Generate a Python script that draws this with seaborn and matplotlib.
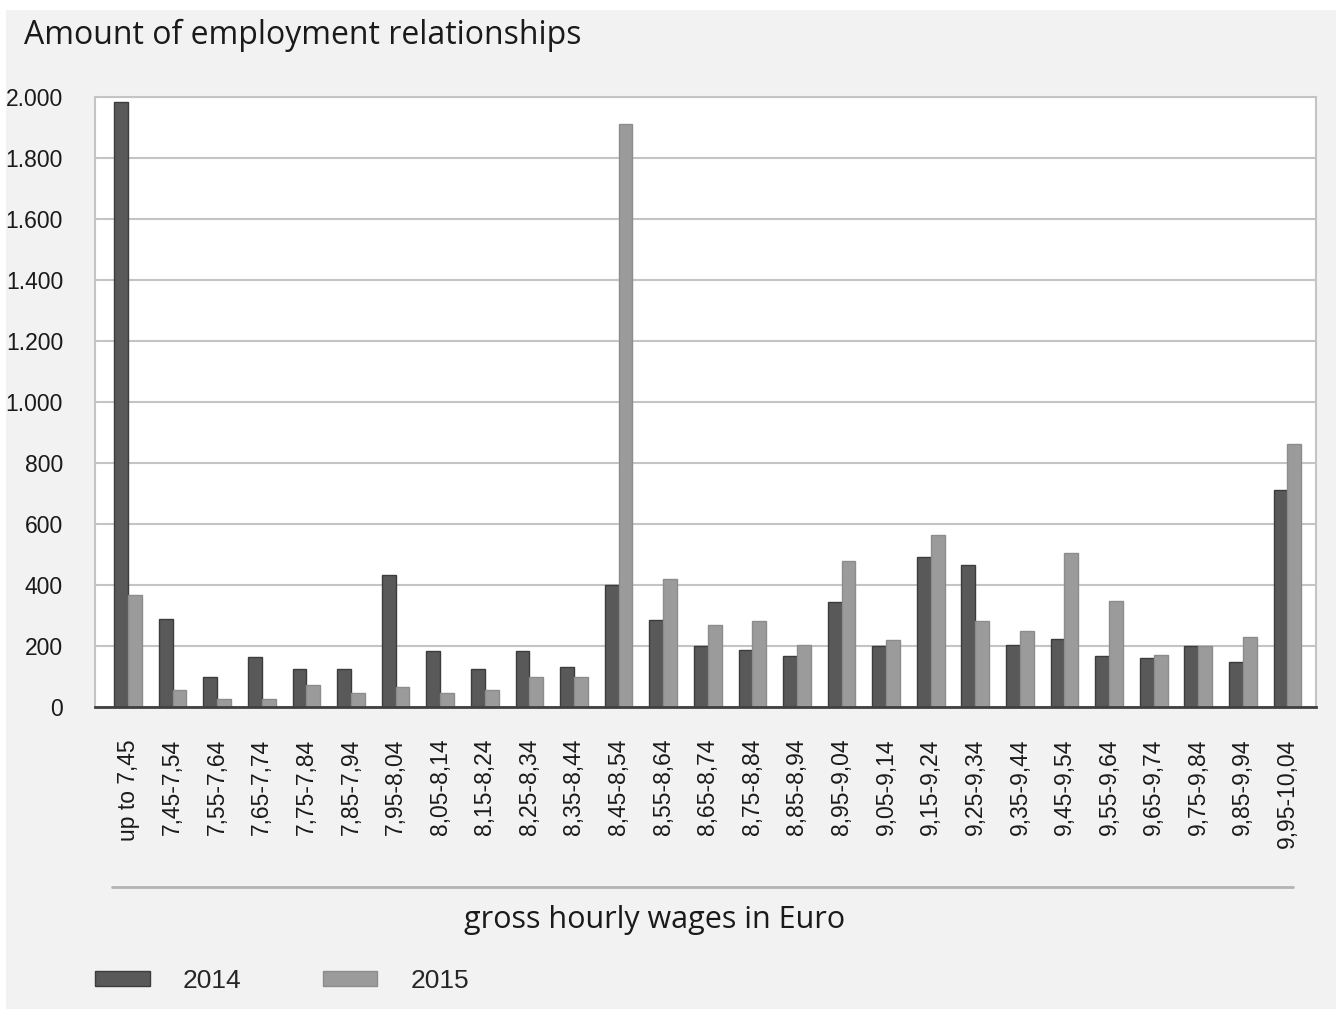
import numpy as np
import pandas as pd
import matplotlib
matplotlib.use('Agg')
import matplotlib.pyplot as plt
from matplotlib.ticker import FuncFormatter
from matplotlib.patches import Patch, Rectangle
from matplotlib.lines import Line2D
import seaborn as sns

# wage bands (x axis)
categories = ['up to 7,45', '7,45-7,54', '7,55-7,64', '7,65-7,74', '7,75-7,84',
              '7,85-7,94', '7,95-8,04', '8,05-8,14', '8,15-8,24', '8,25-8,34',
              '8,35-8,44', '8,45-8,54', '8,55-8,64', '8,65-8,74', '8,75-8,84',
              '8,85-8,94', '8,95-9,04', '9,05-9,14', '9,15-9,24', '9,25-9,34',
              '9,35-9,44', '9,45-9,54', '9,55-9,64', '9,65-9,74', '9,75-9,84',
              '9,85-9,94', '9,95-10,04']

# amounts
v2014 = [1985, 289, 98, 164, 125, 125, 433, 184, 125, 184, 131, 400, 285, 200,
         187, 167, 344, 200, 492, 466, 203, 223, 167, 161, 200, 148, 711]
v2015 = [367, 56, 26, 26, 72, 46, 66, 46, 56, 98, 98, 1912, 420, 269,
         282, 203, 479, 220, 564, 282, 249, 505, 348, 170, 200, 230, 862]

years = ['2014', '2015']
colors = {'2014': '#595959', '2015': '#9b9b9b'}
edges = {'2014': '#3c3c3c', '2015': '#8c8c8c'}

n = len(categories)
df = pd.DataFrame({
    'wage': categories * 2,
    'year': ['2014'] * n + ['2015'] * n,
    'amount': v2014 + v2015,
})

sns.set_theme(style='white')
narrow = ['Liberation Sans', 'DejaVu Sans']
sans = ['Open Sans', 'DejaVu Sans']
plt.rcParams['font.family'] = narrow

W, H = 1336, 1009
fig = plt.figure(figsize=(W / 100, H / 100), dpi=100, facecolor='white')
# grey background panel (thin white margin at top/left like the original)
fig.add_artist(Rectangle((6 / W, 0), 1 - 6 / W, 1 - 10 / H, transform=fig.transFigure,
                         facecolor='#f2f2f2', edgecolor='none', zorder=-10))

ax = fig.add_axes([95 / W, 1 - 707 / H, (1316 - 95) / W, (707 - 97) / H])
sns.barplot(data=df, x='wage', y='amount', hue='year', palette=colors,
            width=0.62, saturation=1, linewidth=1, ax=ax, legend=False)
for cont, yr in zip(ax.containers, years):
    for bar in cont:
        bar.set_edgecolor(edges[yr])

ax.set_facecolor('white')
ax.set_ylim(0, 2000)
ax.set_xlim(-0.74, n - 0.36)
ax.set_yticks(range(0, 2001, 200))
ax.yaxis.set_major_formatter(FuncFormatter(lambda v, p: f"{int(v):,}".replace(',', '.')))
ax.grid(axis='y', color='#c4c4c4', lw=1.5)
ax.set_axisbelow(True)
ax.set_xlabel('')
ax.set_ylabel('')
ax.tick_params(axis='y', length=0, pad=23, labelsize=16.5, labelcolor='#1a1a1a')
ax.tick_params(axis='x', length=0, pad=23, labelsize=16.5, labelcolor='#1a1a1a')
plt.setp(ax.get_xticklabels(), rotation=90, ha='center', va='top')

for side in ['top', 'right', 'left']:
    ax.spines[side].set_visible(True)
    ax.spines[side].set_color('#c4c4c4')
    ax.spines[side].set_linewidth(1.5)
ax.spines['bottom'].set_color('#404040')
ax.spines['bottom'].set_linewidth(2)

# titles
fig.text(24 / W, 1 - 35 / H, 'Amount of employment relationships', ha='left', va='center',
         fontsize=23, family=sans, color='#1a1a1a')
fig.add_artist(Line2D([112 / W, 1293 / W], [1 - 887 / H] * 2, transform=fig.transFigure,
                      color='#b4b4b4', lw=2))
fig.text(655 / W, 1 - 920 / H, 'gross hourly wages in Euro', ha='center', va='center',
         fontsize=22, family=sans, color='#1a1a1a')

handles = [Patch(facecolor=colors[y], edgecolor=edges[y]) for y in years]
fig.legend(handles, years, loc='center left', bbox_to_anchor=(95 / W, 1 - 981 / H),
           ncol=2, frameon=False, fontsize=19, handlelength=2.08, handleheight=0.53,
           handletextpad=1.25, columnspacing=3.07, borderpad=0, borderaxespad=0)

fig.savefig('out.png', dpi=100, facecolor=fig.get_facecolor())
